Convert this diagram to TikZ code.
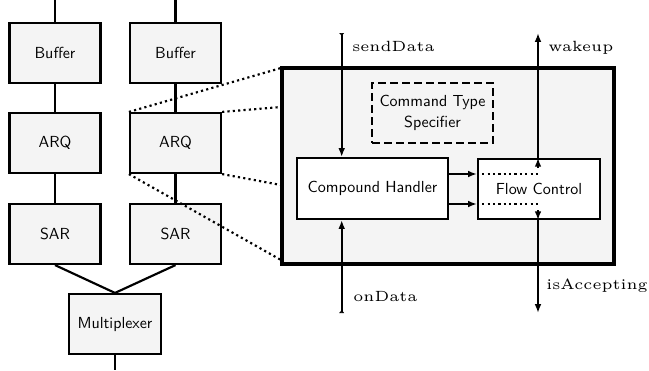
\documentclass[tikz,border=0pt]{standalone}
\usetikzlibrary{arrows.meta}
\definecolor{boxfill}{RGB}{244,244,244}
% signal names: small optical size, enlarged
\newcommand\signame[1]{\scalebox{1.85}{\fontsize{5}{6}\selectfont #1}}
\begin{document}
\begin{tikzpicture}[x=0.625pt,y=-0.625pt,
  >={Latex[length=5.5pt,width=4.2pt]},
  blk/.style={draw,line width=1.35pt,fill=boxfill,inner sep=0pt,
    font=\sffamily,align=center},
  wire/.style={line width=1.35pt},
  zoomline/.style={line width=1.35pt,dotted},
  lbl/.style={anchor=base west,inner sep=0pt}]
\useasboundingbox (0,0) rectangle (649,370);

% protocol stack, two channels
\node[blk,minimum width=56.9pt,minimum height=37.5pt] (buf1) at (55,52.7) {Buffer};
\node[blk,minimum width=56.9pt,minimum height=37.5pt] (buf2) at (175.5,52.7) {Buffer};
\node[blk,minimum width=56.9pt,minimum height=37.5pt] (arq1) at (55,143) {ARQ};
\node[blk,minimum width=56.9pt,minimum height=37.5pt] (arq2) at (175.5,143) {ARQ};
\node[blk,minimum width=56.9pt,minimum height=37.5pt] (sar1) at (55,234) {SAR};
\node[blk,minimum width=56.9pt,minimum height=37.5pt] (sar2) at (175.5,234) {SAR};
\node[blk,minimum width=57.5pt,minimum height=37.5pt] (mux) at (115,324) {Multiplexer};

\coordinate (top1) at (55,0);
\coordinate (top2) at (175.5,0);
\coordinate (muxout) at (115,370);

\draw[wire] (top1) -- (buf1);
\draw[wire] (top2) -- (buf2);
\draw[wire] (buf1) -- (arq1);
\draw[wire] (buf2) -- (arq2);
\draw[wire] (arq1) -- (sar1);
\draw[wire] (arq2) -- (sar2);
\draw[wire] (sar1.south) -- (mux.north);
\draw[wire] (sar2.south) -- (mux.north);
\draw[wire] (mux) -- (muxout);

% detail of the ARQ block
\node[draw,line width=2.6pt,fill=boxfill,inner sep=0pt,
  minimum width=207.4pt,minimum height=122.75pt] (main) at (447.9,165.8) {};
\node[blk,dash pattern=on 5pt off 2.5pt,minimum width=75.6pt,minimum height=37.5pt]
  (cts) at (432.5,113) {Command Type\\[1pt]Specifier};
\node[blk,fill=white,minimum width=94.4pt,minimum height=38.1pt] (ch) at (372.5,188.5) {Compound Handler};
\node[blk,fill=white,minimum width=76.25pt,minimum height=37.5pt] (fc) at (539,189) {Flow Control};

\coordinate (m1) at (281,68);
\coordinate (m2) at (281,107);
\coordinate (m3) at (281,185);
\coordinate (m4) at (281,260);
\draw[zoomline] (arq2.north west) -- (m1);
\draw[zoomline] (arq2.north east) -- (m2);
\draw[zoomline] (arq2.south east) -- (m3);
\draw[zoomline] (arq2.south west) -- (m4);

% signals
\coordinate (sdtop) at (341.7,33);
\coordinate (odbot) at (341.7,313);
\coordinate (wktop) at (538,33);
\coordinate (iabot) at (538,313);
\coordinate (fa) at (538,174);
\coordinate (fb) at (538,204);
\coordinate (wkin) at (538,168);
\coordinate (iain) at (538,210);

\draw[wire,{Latex[reversed,length=2pt,width=3.4pt]}->] (sdtop) -- (sdtop |- ch.north);
\draw[wire,{Latex[reversed,length=2pt,width=3.4pt]}->] (odbot) -- (odbot |- ch.south);

\draw[wire,->] (ch.east |- fa) -- (fc.west |- fa);
\draw[wire,->] (ch.east |- fb) -- (fc.west |- fb);
\draw[zoomline] (fc.west |- fa) -- (fa);
\draw[zoomline] (fc.west |- fb) -- (fb);

\draw[wire,->] (wkin) -- (fc.north -| wkin);
\draw[wire,->] (fc.north -| wkin) -- (wktop);
\draw[wire,->] (iain) -- (fc.south -| iain);
\draw[wire,->] (fc.south -| iain) -- (iabot);

\node[lbl] (lsd) at (352,51.5) {\signame{sendData}};
\node[lbl] (lwk) at (548,51.5) {\signame{wakeup}};
\node[lbl] (lod) at (353,301) {\signame{onData}};
\node[lbl] (lia) at (546,289) {\signame{isAccepting}};
\end{tikzpicture}
\end{document}
